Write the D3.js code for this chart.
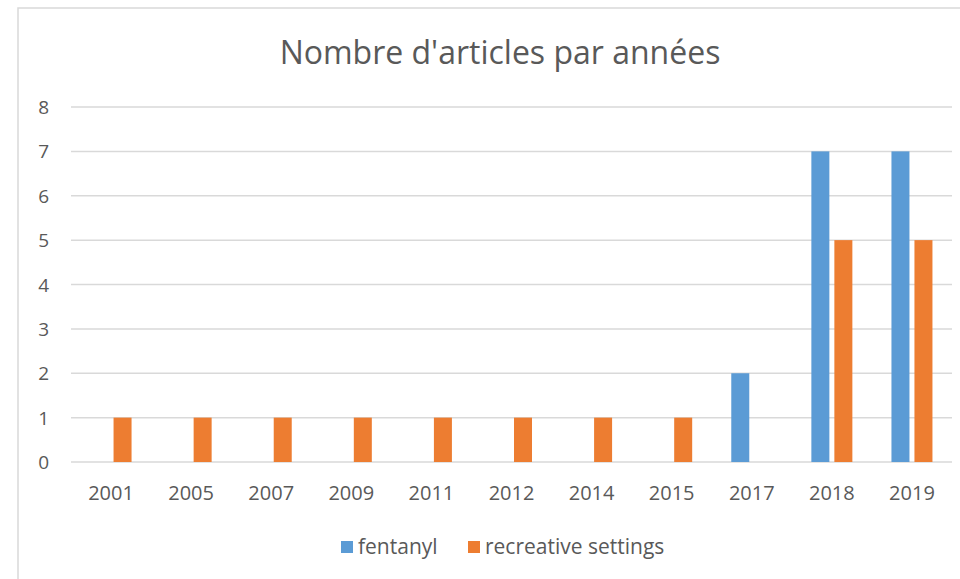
<!DOCTYPE html>
<html lang="fr">
  <head>
    <meta charset="UTF-8" />
    <title>Nombre d'articles par années</title>
    <script src="https://d3js.org/d3.v7.min.js"></script>
    <style>
      body { margin: 0; background: #fff; }
      text { font-family: "Open Sans", "Liberation Sans", sans-serif; fill: #595959; }
    </style>
  </head>
  <body>
    <div id="chart"></div>
    <script>
      // data
      const years = ["2001", "2005", "2007", "2009", "2011", "2012", "2014", "2015", "2017", "2018", "2019"];
      const fentanyl = [0, 0, 0, 0, 0, 0, 0, 0, 2, 7, 7];
      const recreative = [1, 1, 1, 1, 1, 1, 1, 1, 0, 5, 5];
      const seriesNames = ["fentanyl", "recreative settings"];
      const yTicks = [0, 1, 2, 3, 4, 5, 6, 7, 8];

      const colors = ["#5b9bd5", "#ed7d31"];
      const width = 960, height = 579;
      const plot = { left: 71, right: 952, top: 107, bottom: 462 };

      const svg = d3.select("#chart").append("svg")
        .attr("width", width).attr("height", height);

      // chart border
      svg.append("rect")
        .attr("x", 18).attr("y", 8)
        .attr("width", 958).attr("height", 600)
        .attr("fill", "none").attr("stroke", "#d9d9d9").attr("stroke-width", 1.5);

      svg.append("text")
        .attr("x", 500).attr("y", 64)
        .attr("text-anchor", "middle")
        .style("font-size", "32px")
        .text("Nombre d'articles par années");

      const x = d3.scaleBand().domain(years).range([plot.left, plot.right]).padding(0);
      const xs = d3.scaleBand().domain(seriesNames).range([-20.5, 20.5]).paddingInner(0.2174);
      const y = d3.scaleLinear().domain([0, 8]).range([plot.bottom, plot.top]);

      // gridlines
      svg.append("g").selectAll("line").data(yTicks).join("line")
        .attr("x1", plot.left).attr("x2", plot.right)
        .attr("y1", d => y(d)).attr("y2", d => y(d))
        .attr("stroke", "#d9d9d9").attr("stroke-width", 1.5);

      // y labels
      svg.append("g").selectAll("text").data(yTicks).join("text")
        .attr("x", 49).attr("y", d => y(d) + 7)
        .attr("text-anchor", "end")
        .style("font-size", "19px")
        .text(d => d);

      // x labels
      svg.append("g").selectAll("text").data(years).join("text")
        .attr("x", d => x(d) + x.bandwidth() / 2)
        .attr("y", 500)
        .attr("text-anchor", "middle")
        .style("font-size", "20px")
        .text(d => d);

      const table = years.map((yr, i) => ({ year: yr, values: [fentanyl[i], recreative[i]] }));

      const groups = svg.append("g").selectAll("g").data(table).join("g")
        .attr("transform", d => `translate(${x(d.year) + x.bandwidth() / 2},0)`);

      groups.selectAll("rect")
        .data(d => d.values.map((v, k) => ({ name: seriesNames[k], value: v, k })).filter(e => e.value > 0))
        .join("rect")
        .attr("x", d => xs(d.name))
        .attr("width", xs.bandwidth())
        .attr("y", d => y(d.value))
        .attr("height", d => y(0) - y(d.value))
        .attr("fill", d => colors[d.k]);

      // legend
      const legendX = [341, 468];
      const legend = svg.append("g").selectAll("g").data(seriesNames).join("g")
        .attr("transform", (d, i) => `translate(${legendX[i]},541)`);
      legend.append("rect")
        .attr("width", 12).attr("height", 12)
        .attr("fill", (d, i) => colors[i]);
      legend.append("text")
        .attr("x", 17).attr("y", 12.5)
        .style("font-size", "21px")
        .text(d => d);
    </script>
  </body>
</html>
